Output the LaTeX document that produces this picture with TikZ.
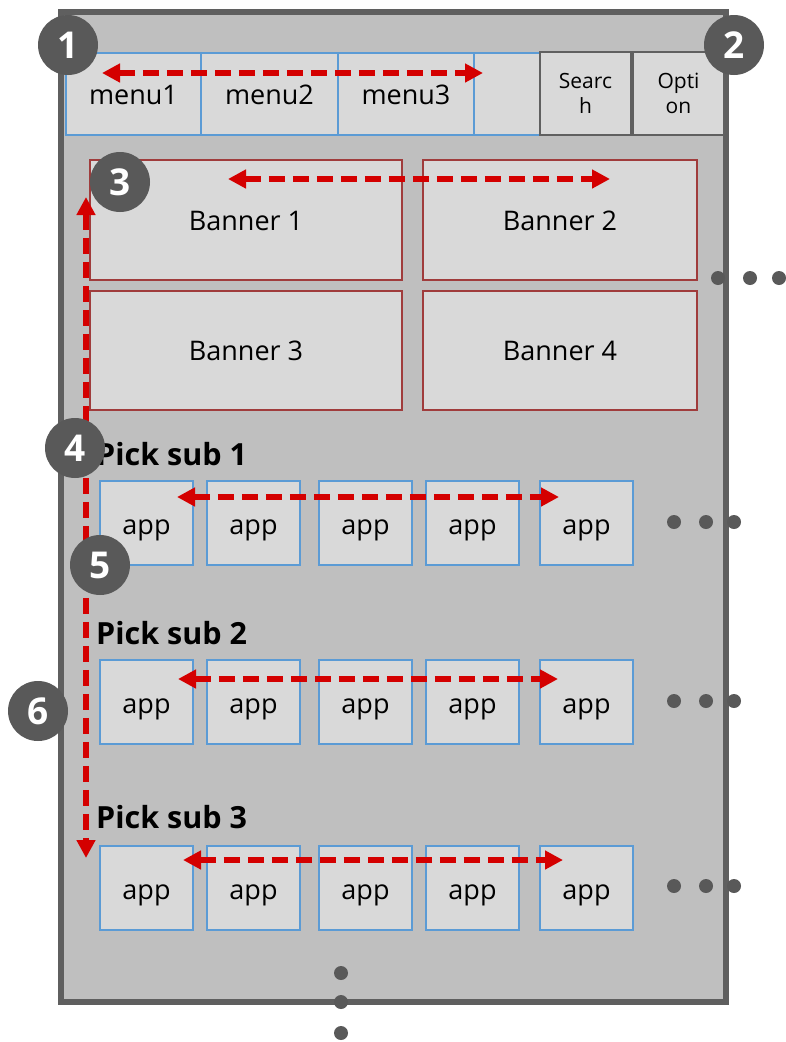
\documentclass[tikz,border=0pt]{standalone}
\usepackage{fontspec}
\setmainfont{Open Sans}
\usetikzlibrary{arrows.meta}
\definecolor{frameline}{HTML}{5F5F5F}
\definecolor{framefill}{HTML}{BFBFBF}
\definecolor{boxfill}{HTML}{D9D9D9}
\definecolor{boxblue}{HTML}{5B9BD5}
\definecolor{boxred}{HTML}{A03C3C}
\definecolor{boxgray}{HTML}{606060}
\definecolor{arrowred}{HTML}{D40000}
\definecolor{badgegray}{HTML}{595959}
\begin{document}
\begin{tikzpicture}[x=1pt,y=-1pt,
  basebox/.style={fill=boxfill,line width=2pt,inner sep=0pt,anchor=north west,text depth=0pt},
  menubox/.style={basebox,draw=boxblue,minimum height=82pt,text height=20pt,font=\fontsize{27}{32}\selectfont},
  sidebox/.style={basebox,draw=boxgray,minimum width=91pt,minimum height=83pt,align=center,text height=,text depth=,font=\fontsize{21}{25}\selectfont},
  bannerbox/.style={basebox,draw=boxred,minimum height=120pt,text height=20pt,font=\fontsize{27}{32}\selectfont},
  appbox/.style={basebox,draw=boxblue,minimum width=93pt,minimum height=84pt,text height=22pt,font=\fontsize{27}{32}\selectfont},
  picktitle/.style={anchor=base west,inner sep=0pt,font=\fontsize{30.5}{34}\selectfont\bfseries},
  badge/.style={circle,fill=badgegray,text=white,minimum size=60pt,inner sep=0pt,font=\fontsize{37}{40}\selectfont\bfseries},
  dotmark/.style={circle,fill=badgegray,minimum size=14pt,inner sep=0pt},
  redarrow/.style={draw=arrowred,line width=6pt,dash pattern=on 16pt off 8pt,
    {Triangle[length=18pt,width=18pt]}-{Triangle[length=18pt,width=18pt]}}
]
\useasboundingbox (0,0) rectangle (785,1042);
% frame
\draw[frameline,line width=5.5pt,fill=framefill] (61,12) rectangle (726,1002);
% menu bar
\node[menubox,minimum width=135pt] (menu1) at (65,52) {menu1};
\node[menubox,minimum width=137pt] (menu2) at (200,52) {menu2};
\node[menubox,minimum width=136pt] (menu3) at (337,52) {menu3};
\node[menubox,minimum width=66pt] (menu4) at (473,52) {};
\node[sidebox] (search) at (539,51) {Searc\\h};
\node[sidebox] (option) at (632,51) {Opti\\on};
% banners
\node[bannerbox,minimum width=312pt] (ban1) at (89,159) {Banner 1};
\node[bannerbox,minimum width=274pt] (ban2) at (422,159) {Banner 2};
\node[bannerbox,minimum width=312pt,minimum height=119pt] (ban3) at (89,290) {Banner 3};
\node[bannerbox,minimum width=274pt,minimum height=119pt] (ban4) at (422,290) {Banner 4};
% pick titles
\node[picktitle] (pick1) at (96,465) {Pick sub 1};
\node[picktitle] (pick2) at (96,644) {Pick sub 2};
\node[picktitle] (pick3) at (96,828) {Pick sub 3};
% app boxes
\foreach \r/\y in {1/480,2/659,3/845}{
  \foreach \c/\x in {1/99,2/206,3/318,4/425,5/539}{
    \node[appbox] (app\r\c) at (\x,\y) {app};
  }
}
% arrow ends
\coordinate (mL) at (102,73);
\coordinate (mR) at (483,73);
\coordinate (bL) at (228,179);
\coordinate (bR) at (610,179);
\coordinate (r1L) at (177,497);
\coordinate (r1R) at (559,497);
\coordinate (r2L) at (178,679);
\coordinate (r2R) at (558,679);
\coordinate (r3L) at (183,860);
\coordinate (r3R) at (563,860);
\coordinate (vT) at (86,197);
\coordinate (vB) at (86,858);
\draw[redarrow] (mL) -- (mR);
\draw[redarrow] (bL) -- (bR);
\draw[redarrow] (r1L) -- (r1R);
\draw[redarrow] (r2L) -- (r2R);
\draw[redarrow] (r3L) -- (r3R);
\draw[redarrow] (vT) -- (vB);
% dots
\node[dotmark] (bd1) at (718,278) {};
\node[dotmark] (bd2) at (750,278) {};
\node[dotmark] (bd3) at (779,278) {};
\foreach \r/\y in {1/522,2/701,3/886}{
  \node[dotmark] (rd\r a) at (674,\y) {};
  \node[dotmark] (rd\r b) at (706,\y) {};
  \node[dotmark] (rd\r c) at (734,\y) {};
}
\node[dotmark] (vd1) at (341,973) {};
\node[dotmark] (vd2) at (341,1002) {};
\node[dotmark] (vd3) at (341,1033) {};
% badges
\node[badge] (b1) at (68,45) {1};
\node[badge] (b2) at (734,45) {2};
\node[badge] (b3) at (120,182) {3};
\node[badge] (b4) at (75,448) {4};
\node[badge] (b5) at (100,565) {5};
\node[badge] (b6) at (38,711) {6};
\end{tikzpicture}
\end{document}
